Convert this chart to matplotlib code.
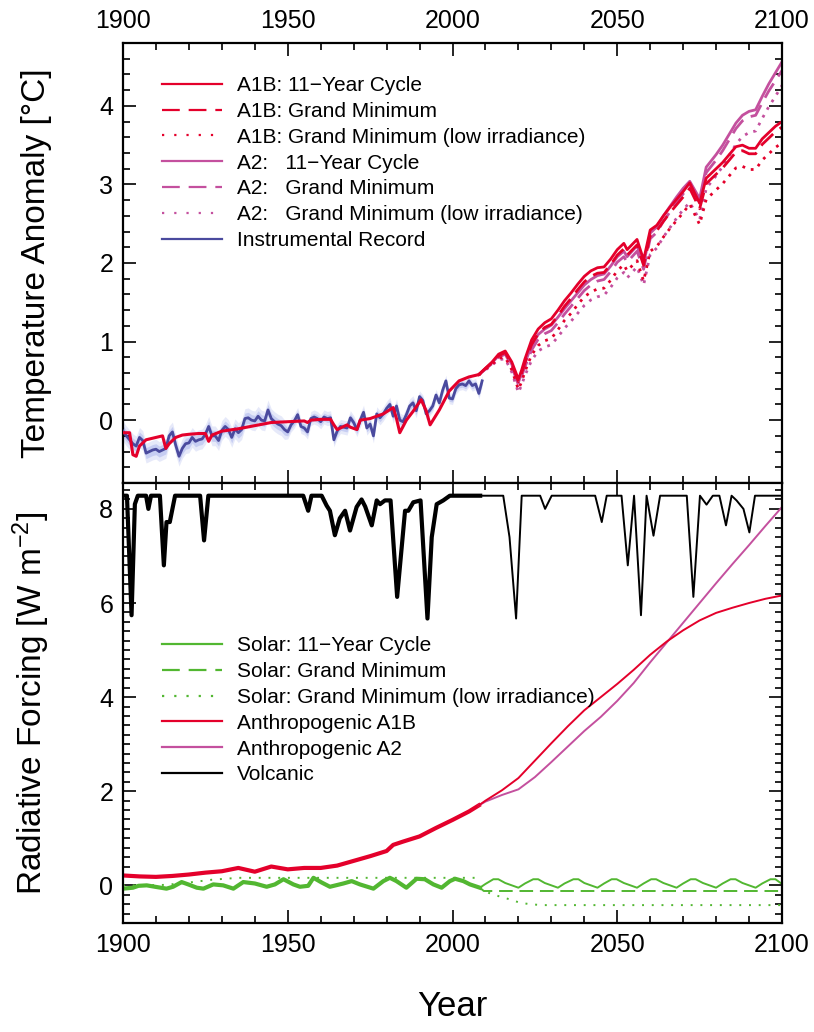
#!/usr/bin/env python3
"""Temperature anomaly and radiative forcing, 1900-2100, solar scenarios
"""

import matplotlib
matplotlib.use("Agg")
import matplotlib.pyplot as plt
from matplotlib.ticker import MultipleLocator
from matplotlib import rcParams

rcParams['font.family'] = ['Liberation Sans', 'DejaVu Sans']
rcParams['mathtext.fontset'] = 'custom'
rcParams['mathtext.rm'] = 'Liberation Sans'
rcParams['mathtext.it'] = 'Liberation Sans'
rcParams['xtick.direction'] = 'in'
rcParams['ytick.direction'] = 'in'

#--- colours
RED = '#e4002b'
MAG = '#c4509e'
BLUE = '#4a4a9e'
BAND = '#b9c2f0'
GREEN = '#52b731'

#--- upper panel: instrumental record (annual)
instr_yr = list(range(1900, 2010))
instr_t = [-0.14, -0.20, -0.25, -0.30, -0.33, -0.22, -0.26, -0.42, -0.40, -0.38,
           -0.37, -0.40, -0.38, -0.36, -0.20, -0.15, -0.32, -0.46, -0.36, -0.30,
           -0.29, -0.22, -0.27, -0.25, -0.24, -0.18, -0.08, -0.20, -0.20, -0.26,
           -0.13, -0.08, -0.12, -0.22, -0.11, -0.16, -0.12, 0.02, 0.03, 0.00,
           -0.01, 0.05, 0.00, -0.01, 0.13, 0.02, -0.02, -0.05, -0.07, -0.12,
           -0.15, -0.06, -0.01, 0.07, -0.08, -0.10, -0.15, 0.02, 0.04, 0.02,
           -0.02, 0.04, 0.02, 0.03, -0.25, -0.14, -0.08, -0.09, -0.10, 0.03,
           -0.03, -0.12, 0.00, 0.10, -0.10, -0.05, -0.20, 0.08, 0.03, 0.08,
           0.15, 0.20, 0.05, 0.18, 0.00, -0.02, 0.07, 0.18, 0.22, 0.12,
           0.30, 0.25, 0.08, 0.12, 0.18, 0.32, 0.22, 0.38, 0.50, 0.28,
           0.27, 0.40, 0.45, 0.46, 0.44, 0.50, 0.44, 0.46, 0.34, 0.50]
instr_err = [0.07] * 50 + [0.05] * 40 + [0.04] * 20

#--- upper panel: modelled temperature, historical part (A1B = A2)
mod_hist_yr = [1900, 1902, 1903, 1904, 1905, 1907, 1910, 1912, 1913, 1914,
               1916, 1918, 1920, 1923, 1925, 1926, 1927, 1930, 1935, 1940,
               1945, 1950, 1955, 1956, 1957, 1960, 1963, 1964, 1965, 1967,
               1968, 1969, 1971, 1972, 1975, 1979, 1982, 1983, 1984, 1986,
               1988, 1990.5, 1992, 1993.2, 1996, 1999, 2002, 2005, 2008]
mod_hist_t = [-0.16, -0.16, -0.44, -0.46, -0.33, -0.25, -0.22, -0.20, -0.36, -0.30,
              -0.22, -0.19, -0.18, -0.17, -0.17, -0.27, -0.19, -0.14, -0.11, -0.07,
              -0.03, -0.02, -0.01, -0.03, 0.00, 0.01, 0.01, -0.06, -0.12, -0.08,
              -0.06, -0.09, -0.12, 0.00, 0.02, 0.08, 0.16, 0.02, -0.16, 0.00,
              0.11, 0.26, 0.12, -0.06, 0.13, 0.37, 0.50, 0.55, 0.58]

#--- upper panel: projections
fut_yr = [2008, 2010, 2012, 2014, 2016, 2018, 2020, 2021, 2022, 2024,
          2026, 2028, 2030, 2032, 2034, 2036, 2038, 2040, 2042, 2044,
          2046, 2048, 2050, 2052, 2053, 2056, 2058, 2060, 2062, 2064,
          2066, 2068, 2070, 2072, 2075, 2077, 2080, 2082, 2084, 2086,
          2088, 2090, 2092, 2094, 2096, 2098, 2100]
a1b_cyc = [0.58, 0.66, 0.74, 0.84, 0.88, 0.74, 0.52, 0.64, 0.78, 1.02,
           1.16, 1.24, 1.29, 1.40, 1.52, 1.62, 1.73, 1.83, 1.90, 1.94,
           1.95, 2.05, 2.17, 2.25, 2.17, 2.30, 2.04, 2.42, 2.48, 2.60,
           2.71, 2.81, 2.91, 3.02, 2.76, 3.08, 3.20, 3.28, 3.38, 3.48,
           3.50, 3.46, 3.46, 3.58, 3.66, 3.74, 3.80]
a1b_gm = [0.58, 0.66, 0.73, 0.82, 0.86, 0.71, 0.49, 0.60, 0.73, 0.96,
          1.10, 1.18, 1.22, 1.33, 1.45, 1.55, 1.66, 1.76, 1.83, 1.87,
          1.88, 1.98, 2.10, 2.18, 2.10, 2.23, 1.97, 2.35, 2.41, 2.53,
          2.64, 2.74, 2.84, 2.95, 2.69, 3.01, 3.13, 3.21, 3.31, 3.41,
          3.43, 3.39, 3.39, 3.51, 3.59, 3.67, 3.73]
a1b_low = [0.58, 0.65, 0.71, 0.79, 0.80, 0.64, 0.39, 0.49, 0.62, 0.83,
           0.95, 1.01, 1.04, 1.15, 1.27, 1.36, 1.47, 1.57, 1.63, 1.67,
           1.68, 1.78, 1.90, 1.98, 1.90, 2.03, 1.77, 2.15, 2.21, 2.33,
           2.44, 2.54, 2.64, 2.75, 2.49, 2.81, 2.93, 3.01, 3.11, 3.21,
           3.23, 3.19, 3.19, 3.31, 3.39, 3.47, 3.53]
a2_cyc = [0.58, 0.65, 0.73, 0.82, 0.86, 0.71, 0.48, 0.60, 0.73, 0.95,
          1.09, 1.16, 1.21, 1.31, 1.42, 1.52, 1.62, 1.72, 1.79, 1.84,
          1.86, 1.96, 2.08, 2.15, 2.08, 2.22, 1.99, 2.38, 2.46, 2.60,
          2.72, 2.84, 2.95, 3.04, 2.82, 3.22, 3.38, 3.50, 3.64, 3.78,
          3.88, 3.93, 3.95, 4.12, 4.28, 4.42, 4.56]
a2_gm = [0.58, 0.65, 0.72, 0.80, 0.84, 0.68, 0.45, 0.56, 0.68, 0.89,
         1.03, 1.10, 1.14, 1.24, 1.35, 1.45, 1.55, 1.65, 1.72, 1.77,
         1.79, 1.89, 2.01, 2.08, 2.01, 2.15, 1.92, 2.31, 2.39, 2.53,
         2.65, 2.77, 2.88, 2.97, 2.75, 3.15, 3.31, 3.43, 3.57, 3.71,
         3.81, 3.86, 3.88, 4.04, 4.19, 4.32, 4.45]
a2_low = [0.58, 0.64, 0.70, 0.77, 0.78, 0.61, 0.35, 0.45, 0.57, 0.76,
          0.88, 0.93, 0.96, 1.06, 1.17, 1.26, 1.36, 1.46, 1.53, 1.57,
          1.59, 1.69, 1.81, 1.88, 1.81, 1.95, 1.72, 2.11, 2.19, 2.33,
          2.45, 2.57, 2.68, 2.77, 2.55, 2.95, 3.11, 3.23, 3.37, 3.51,
          3.61, 3.66, 3.68, 3.84, 3.99, 4.12, 4.26]

#--- lower panel: volcanic forcing (offset)
volc_hist_yr = [1900, 1901.2, 1902.6, 1903.6, 1904.5, 1907, 1907.7, 1908.5, 1911.2, 1912.4,
                1913.2, 1914.2, 1915.8, 1923.4, 1924.6, 1925.9, 1954.7, 1956.2, 1957.2, 1960.3,
                1961.8, 1962.8, 1964.3, 1965.8, 1967.4, 1968.9, 1970.9, 1972.4, 1973.5, 1975.5,
                1977, 1978, 1979.5, 1981.2, 1983.2, 1985.6, 1986.6, 1988.1, 1990.3, 1992.4,
                1993.7, 1995.2, 1997.2, 1999.2, 2008.4]
volc_hist_f = [8.28, 8.28, 5.74, 8.10, 8.28, 8.28, 8.00, 8.28, 8.28, 6.80,
               7.72, 7.72, 8.28, 8.28, 7.33, 8.28, 8.28, 7.96, 8.28, 8.28,
               8.07, 7.96, 7.44, 7.80, 7.96, 7.54, 8.04, 8.20, 8.05, 7.65,
               8.18, 8.10, 8.18, 8.18, 6.13, 7.96, 7.96, 8.14, 8.18, 5.67,
               7.40, 8.10, 8.18, 8.28, 8.28]
volc_fut_yr = [2008.4, 2015.4, 2017.3, 2019.3, 2021, 2026.6, 2028.1, 2030.1, 2043.3, 2045.3,
               2046.8, 2051.3, 2053.2, 2055.1, 2057.2, 2058.9, 2061, 2063, 2071.1, 2073.1,
               2075.1, 2077.1, 2079, 2081, 2083, 2084.7, 2086.2, 2088.3, 2090.1, 2091.8, 2100]
volc_fut_f = [8.28, 8.28, 7.40, 5.67, 8.28, 8.28, 8.00, 8.28, 8.28, 7.72,
              8.28, 8.28, 6.80, 8.28, 5.74, 8.28, 7.43, 8.28, 8.28, 6.13,
              8.28, 8.09, 8.28, 8.28, 7.65, 8.28, 8.18, 8.00, 7.50, 8.28, 8.28]

#--- lower panel: anthropogenic forcing
anth_hist_yr = [1900, 1905, 1910, 1915, 1920, 1925, 1930, 1935, 1940, 1945,
                1950, 1955, 1960, 1965, 1970, 1975, 1980, 1982, 1985, 1990,
                1995, 2000, 2005, 2008]
anth_hist_f = [0.21, 0.19, 0.18, 0.20, 0.23, 0.27, 0.30, 0.37, 0.29, 0.40,
               0.34, 0.37, 0.37, 0.42, 0.52, 0.62, 0.73, 0.86, 0.93, 1.04,
               1.22, 1.39, 1.57, 1.70]
anth_fut_yr = [2008, 2010, 2015, 2020, 2025, 2030, 2035, 2040, 2045, 2050,
               2055, 2060, 2065, 2070, 2075, 2080, 2085, 2090, 2095, 2100]
anth_a1b = [1.70, 1.80, 2.02, 2.28, 2.65, 3.02, 3.38, 3.72, 4.00, 4.28,
            4.58, 4.90, 5.18, 5.42, 5.63, 5.79, 5.90, 6.00, 6.09, 6.16]
anth_a2 = [1.70, 1.78, 1.92, 2.04, 2.30, 2.62, 2.95, 3.28, 3.58, 3.92,
           4.30, 4.74, 5.16, 5.58, 6.00, 6.42, 6.83, 7.23, 7.64, 8.04]

#--- lower panel: solar forcing
sol_hist_yr = [1900, 1903, 1904.7, 1907.2, 1909.7, 1913.2, 1915.2, 1917.8, 1919.8, 1922.4,
               1924.4, 1927.4, 1930.4, 1933.5, 1936.5, 1940, 1943.6, 1946.1, 1948.7, 1951.7,
               1953.7, 1956.2, 1957.8, 1960.3, 1962.8, 1966.9, 1969.4, 1971.9, 1976, 1979,
               1981, 1983, 1986, 1989.1, 1991.6, 1994.2, 1996.7, 1999.2, 2000.8, 2003.3,
               2005.3, 2008.3]
sol_hist_f = [-0.07, -0.05, -0.01, 0.00, -0.03, -0.07, -0.03, 0.07, 0.02, -0.05,
              -0.07, 0.02, 0.00, -0.07, 0.07, 0.04, -0.03, 0.02, 0.13, 0.02,
              -0.03, -0.01, 0.16, 0.06, -0.03, 0.04, 0.09, 0.02, -0.07, 0.09,
              0.16, 0.09, -0.05, 0.14, 0.13, 0.02, -0.05, 0.09, 0.14, 0.09,
              0.02, -0.05]
sol_cyc_yr = [2008.3, 2010, 2012.4, 2013.9, 2016, 2018, 2020, 2022, 2024.5, 2026,
              2028, 2030, 2032, 2034, 2036.7, 2038.2, 2040, 2042, 2044, 2046,
              2048.3, 2049.8, 2052, 2054, 2056, 2058, 2060.3, 2061.8, 2064, 2066,
              2068, 2070, 2072.3, 2073.8, 2076, 2078, 2080, 2082, 2084.4, 2085.9,
              2088, 2090, 2092, 2094, 2096.5, 2098, 2100]
sol_cyc_f = [-0.05, 0.03, 0.13, 0.13, 0.05, 0.00, -0.05, 0.04, 0.13, 0.13,
             0.05, 0.00, -0.05, 0.04, 0.13, 0.13, 0.05, 0.00, -0.05, 0.04,
             0.13, 0.13, 0.05, 0.00, -0.05, 0.04, 0.13, 0.13, 0.05, 0.00,
             -0.05, 0.04, 0.13, 0.13, 0.05, 0.00, -0.05, 0.04, 0.13, 0.13,
             0.05, 0.00, -0.05, 0.04, 0.13, 0.13, 0.03]
sol_gm_yr = [2008.3, 2009.5, 2100]
sol_gm_f = [-0.05, -0.12, -0.12]
sol_low_hist_yr = [1900, 1905, 1913, 1920, 1927, 1935, 2008]
sol_low_hist_f = [0.00, 0.00, 0.01, 0.06, 0.12, 0.16, 0.16]
sol_low_yr = [2008.3, 2011, 2014, 2017.5, 2020.5, 2023.5, 2027, 2100]
sol_low_f = [-0.05, -0.16, -0.23, -0.30, -0.37, -0.40, -0.42, -0.42]

DOT = (0, (1, 2.2))
DOT_LG = (0, (1, 4.5))
DASH = (0, (6, 3))
LEG_DASH = (0, (8, 4))


def style_axis(ax):
    """ticks on all four sides, pointing in"""
    for sp in ax.spines.values():
        sp.set_linewidth(1.6)
    ax.set_xlim(1900, 2100)
    ax.xaxis.set_major_locator(MultipleLocator(50))
    ax.xaxis.set_minor_locator(MultipleLocator(10))
    ax.tick_params(which='both', top=True, bottom=True, left=True, right=True,
                   width=1.2, labelsize=18, pad=7)
    ax.tick_params(which='major', length=9.5)
    ax.tick_params(which='minor', length=5)


def plot_temperature(ax):
    lo = [t - e for t, e in zip(instr_t, instr_err)]
    hi = [t + e for t, e in zip(instr_t, instr_err)]
    lo2 = [t - 1.8 * e for t, e in zip(instr_t, instr_err)]
    hi2 = [t + 1.8 * e for t, e in zip(instr_t, instr_err)]
    ax.fill_between(instr_yr, lo2, hi2, color=BAND, alpha=0.35, lw=0)
    ax.fill_between(instr_yr, lo, hi, color=BAND, alpha=0.7, lw=0)
    ax.plot(instr_yr, instr_t, color=BLUE, lw=2.0, zorder=3)
    ax.plot(mod_hist_yr, mod_hist_t, color=RED, lw=2.2, zorder=4)

    ax.plot(fut_yr, a2_low, color=MAG, lw=2.0, ls=DOT)
    ax.plot(fut_yr, a2_gm, color=MAG, lw=2.0, ls=DASH)
    ax.plot(fut_yr, a2_cyc, color=MAG, lw=2.0)
    ax.plot(fut_yr, a1b_low, color=RED, lw=2.0, ls=DOT)
    ax.plot(fut_yr, a1b_gm, color=RED, lw=2.0, ls=DASH)
    ax.plot(fut_yr, a1b_cyc, color=RED, lw=2.0)

    # legend proxies
    h = [ax.plot([], [], color=RED, lw=1.6)[0],
         ax.plot([], [], color=RED, lw=1.6, ls=LEG_DASH)[0],
         ax.plot([], [], color=RED, lw=1.6, ls=DOT_LG)[0],
         ax.plot([], [], color=MAG, lw=1.6)[0],
         ax.plot([], [], color=MAG, lw=1.6, ls=LEG_DASH)[0],
         ax.plot([], [], color=MAG, lw=1.6, ls=DOT_LG)[0],
         ax.plot([], [], color=BLUE, lw=1.6)[0]]
    labels = ["A1B: 11\u2212Year Cycle",
              "A1B: Grand Minimum",
              "A1B: Grand Minimum (low irradiance)",
              "A2:   11\u2212Year Cycle",
              "A2:   Grand Minimum",
              "A2:   Grand Minimum (low irradiance)",
              "Instrumental Record"]
    ax.legend(h, labels, loc='upper left', bbox_to_anchor=(0.059, 0.925),
              frameon=False, fontsize=15, handlelength=2.9, handletextpad=0.72,
              labelspacing=0.33, borderpad=0, borderaxespad=0)

    ax.set_ylim(-0.8, 4.8)
    ax.yaxis.set_major_locator(MultipleLocator(1))
    ax.yaxis.set_minor_locator(MultipleLocator(0.2))
    ax.tick_params(labeltop=True, labelbottom=False)
    ax.set_ylabel("Temperature Anomaly [\u00b0C]", fontsize=24)
    ax.yaxis.set_label_coords(-0.108, 0.5)


def plot_forcing(ax):
    ax.plot(volc_hist_yr, volc_hist_f, color='black', lw=3.0)
    ax.plot(volc_fut_yr, volc_fut_f, color='black', lw=1.4)

    ax.plot(anth_hist_yr, anth_hist_f, color=RED, lw=3.0)
    ax.plot(anth_fut_yr, anth_a2, color=MAG, lw=1.4)
    ax.plot(anth_fut_yr, anth_a1b, color=RED, lw=1.4)

    ax.plot(sol_low_hist_yr, sol_low_hist_f, color=GREEN, lw=1.4, ls=(0, (1, 4)))
    ax.plot(sol_hist_yr, sol_hist_f, color=GREEN, lw=3.0)
    ax.plot(sol_cyc_yr, sol_cyc_f, color=GREEN, lw=1.4)
    ax.plot(sol_gm_yr, sol_gm_f, color=GREEN, lw=1.4, ls=(0, (7, 3.5)))
    ax.plot(sol_low_yr, sol_low_f, color=GREEN, lw=1.4, ls=(0, (1, 4)))

    h = [ax.plot([], [], color=GREEN, lw=1.6)[0],
         ax.plot([], [], color=GREEN, lw=1.6, ls=LEG_DASH)[0],
         ax.plot([], [], color=GREEN, lw=1.6, ls=DOT_LG)[0],
         ax.plot([], [], color=RED, lw=1.6)[0],
         ax.plot([], [], color=MAG, lw=1.6)[0],
         ax.plot([], [], color='black', lw=1.6)[0]]
    labels = ["Solar: 11\u2212Year Cycle",
              "Solar: Grand Minimum",
              "Solar: Grand Minimum (low irradiance)",
              "Anthropogenic A1B",
              "Anthropogenic A2",
              "Volcanic"]
    ax.legend(h, labels, loc='upper left', bbox_to_anchor=(0.059, 0.652),
              frameon=False, fontsize=15, handlelength=2.9, handletextpad=0.72,
              labelspacing=0.33, borderpad=0, borderaxespad=0)

    ax.set_ylim(-0.8, 8.55)
    ax.yaxis.set_major_locator(MultipleLocator(2))
    ax.yaxis.set_minor_locator(MultipleLocator(0.2))
    ax.tick_params(labeltop=False, labelbottom=True)
    ax.set_ylabel("Radiative Forcing [W m$^{-2}$]", fontsize=24)
    ax.yaxis.set_label_coords(-0.108, 0.5)
    ax.set_xlabel("Year", fontsize=25, labelpad=24)


def main():
    fig = plt.figure(figsize=(8.14, 10.32), dpi=100)
    left, width = 123 / 814, 659 / 814
    ax1 = fig.add_axes([left, 1 - 483 / 1032, width, 440 / 1032])
    ax2 = fig.add_axes([left, 1 - 923 / 1032, width, 440 / 1032])
    style_axis(ax1)
    style_axis(ax2)
    plot_temperature(ax1)
    plot_forcing(ax2)
    fig.savefig("out.png", dpi=100)


if __name__ == "__main__":
    main()
